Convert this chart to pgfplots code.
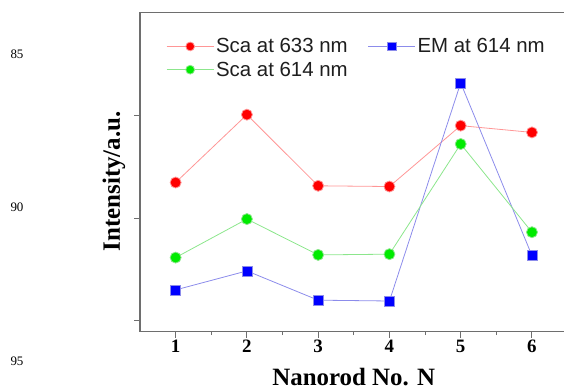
\documentclass[border=0pt]{standalone}
\usepackage{fontspec}
\setmainfont{Liberation Serif}
\setsansfont{Liberation Sans}
\usepackage{pgfplots}
\pgfplotsset{compat=1.18}
\definecolor{axisgray}{RGB}{110,110,110}
\definecolor{redline}{RGB}{255,150,150}
\definecolor{greenline}{RGB}{140,230,140}
\definecolor{blueline}{RGB}{140,140,235}
\definecolor{mgreen}{RGB}{0,235,0}
\definecolor{legtext}{RGB}{30,30,30}
\begin{document}
\begin{tikzpicture}
\useasboundingbox (0,0) rectangle (564bp,391bp);
\node[font=\fontsize{13}{15}\selectfont] at (17bp,337bp) {85};
\node[font=\fontsize{13}{15}\selectfont] at (17bp,184bp) {90};
\node[font=\fontsize{13}{15}\selectfont] at (17bp,30bp) {95};
\begin{axis}[
  at={(140bp,59.3bp)}, anchor=south west,
  width=427.6bp, height=319bp, scale only axis,
  xmin=0.5, xmax=6.5, ymin=-0.107, ymax=3.0,
  xtick={1,2,3,4,5,6}, minor xtick={1.5,2.5,3.5,4.5,5.5},
  ytick={0,1,2}, yticklabels={,,},
  tick align=outside, xtick pos=bottom, ytick pos=left,
  major tick length=6bp, minor tick length=3.5bp,
  axis line style={draw=axisgray, line width=1.2bp},
  every tick/.style={draw=axisgray, line width=1bp},
  /pgf/number format/assume math mode=true,
  xticklabel style={font=\bfseries\fontsize{19}{22}\selectfont, yshift=1.5bp},
  xlabel={Nanorod No. N},
  ylabel={Intensity/a.u.},
  xlabel style={font=\bfseries\fontsize{25}{28}\selectfont, at={(axis description cs:0.5,-0.142)}, anchor=center},
  ylabel style={font=\bfseries\fontsize{25}{28}\selectfont, at={(axis description cs:-0.0608,0.471)}, anchor=center, rotate=0},
  legend columns=2,
  legend cell align=left,
  legend style={draw=none, fill=none, at={(axis description cs:0.054,0.932)}, anchor=north west,
    font=\sffamily\fontsize{20.5}{24}\selectfont, text=legtext, row sep=3.5bp,
    /tikz/every even column/.append style={column sep=18bp}},
  legend image code/.code={\draw[mark repeat=2,mark phase=2,#1,mark size=4.4bp] plot coordinates {(0bp,0bp) (23.5bp,0bp) (47bp,0bp)};},
]
\addplot[color=redline, line width=0.8bp, mark=*, mark size=5.5bp, mark options={draw=none, fill=red}]
  coordinates {(1,1.346) (2,2.007) (3,1.314) (4,1.307) (5,1.90) (6,1.834)};
\addlegendentry{Sca at 633 nm}
\addplot[color=blueline, line width=0.8bp, mark=square*, mark size=5bp, mark options={draw=none, fill=blue}]
  coordinates {(1,0.30) (2,0.485) (3,0.20) (4,0.192) (5,2.316) (6,0.634)};
\addlegendentry{EM at 614 nm}
\addplot[color=greenline, line width=0.8bp, mark=*, mark size=5.5bp, mark options={draw=none, fill=mgreen}]
  coordinates {(1,0.615) (2,0.99) (3,0.641) (4,0.648) (5,1.721) (6,0.862)};
\addlegendentry{Sca at 614 nm}
\end{axis}
\end{tikzpicture}
\end{document}
